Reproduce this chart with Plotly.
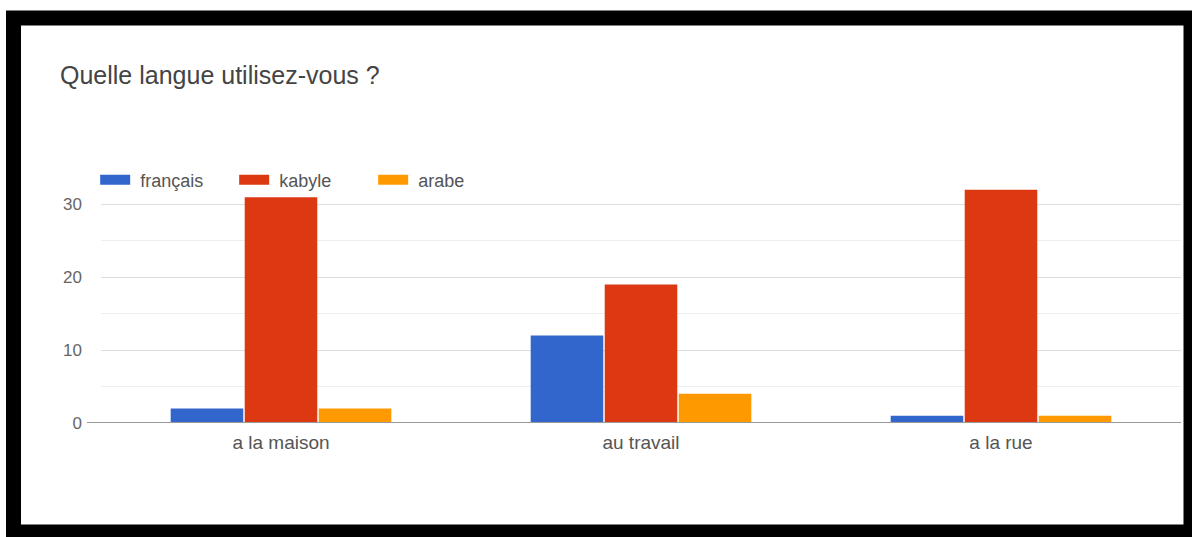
import plotly.graph_objects as go

categories = ["a la maison", "au travail", "a la rue"]
series_names = ["français", "kabyle", "arabe"]
francais = [2, 12, 1]
kabyle = [31, 19, 32]
arabe = [2, 4, 1]
y_ticks = [0, 10, 20, 30]

colors = ["#3366CC", "#DC3912", "#FF9900"]
values = [francais, kabyle, arabe]

FONT = "Arial, Liberation Sans, sans-serif"

fig = go.Figure()
for name, vals, col in zip(series_names, values, colors):
    fig.add_trace(go.Bar(x=categories, y=vals, name=name, marker_color=col,
                         marker_line_width=0, showlegend=False, legendgroup=name))
for name, col in zip(series_names, colors):
    fig.add_trace(go.Scatter(x=[categories[0]], y=[None], mode="lines", name=" " + name,
                             line=dict(color=col, width=12), legendgroup=name,
                             showlegend=True))

fig.update_layout(
    width=1192, height=537,
    margin=dict(l=101, r=11, t=168, b=114),
    paper_bgcolor="white", plot_bgcolor="white",
    barmode="group", bargap=0.383, bargroupgap=0.02,
    font=dict(family=FONT, color="#555", size=19),
    title=dict(text="Quelle langue utilisez-vous ?", x=60/1192, xref="container", xanchor="left",
               y=1-75/537, yref="container", yanchor="middle",
               font=dict(size=25, color="#444", family=FONT)),
    legend=dict(orientation="h", x=-0.0054, xanchor="left", y=0.953, yanchor="middle",
                font=dict(size=18, color="#555"), bgcolor="rgba(0,0,0,0)",
                entrywidth=94, itemsizing="trace"),
    showlegend=True,
)
fig.update_xaxes(showgrid=False, showline=False, ticks="", tickfont=dict(size=19, color="#555"),
                 ticklabelstandoff=6)
fig.update_yaxes(range=[0, 35], tickvals=y_ticks, showgrid=True, gridcolor="#dddddd", gridwidth=1,
                 zeroline=False, showline=False, tickfont=dict(size=17, color="#666"),
                 ticklabelstandoff=18,
                 minor=dict(tickvals=[5, 15, 25, 35], showgrid=True, gridcolor="#eeeeee", gridwidth=1))

# baseline
fig.add_shape(type="line", xref="paper", yref="y", x0=-0.013, x1=1.0, y0=0, y1=0,
              line=dict(color="#999999", width=2), layer="above")
# black frame around chart
W, H = 1192, 537
l, t, pw, ph = 101, 168, 1080, 255
def px(x):
    return (x - l) / pw
def py(y):
    return (t + ph - y) / ph
fig.add_shape(type="rect", xref="paper", yref="paper",
              x0=px(13.5), x1=px(1191), y0=py(18), y1=py(532),
              line=dict(color="black", width=15), fillcolor="rgba(0,0,0,0)", layer="above")

fig.write_html("out.html", post_script="document.body.style.margin='0px';",
               config={"displayModeBar": False})
